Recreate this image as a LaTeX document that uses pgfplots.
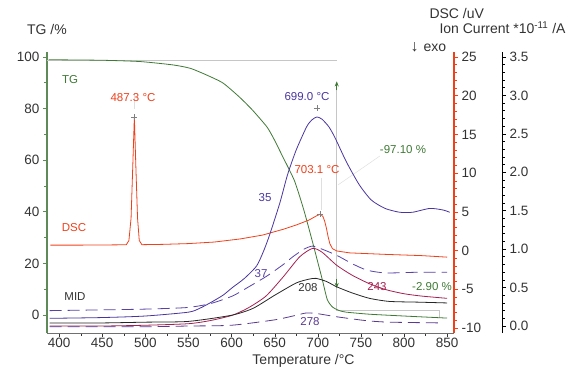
\documentclass[border=0pt]{standalone}
\usepackage{fontspec}
\setmainfont{Liberation Sans}
\usepackage{pgfplots}
\pgfplotsset{compat=1.18}
\usetikzlibrary{arrows.meta}
\definecolor{tgc}{HTML}{3F7A35}
\definecolor{tgax}{HTML}{5E8A57}
\definecolor{dscc}{HTML}{F0401A}
\definecolor{bl}{HTML}{4A35A0}
\definecolor{bld}{HTML}{5842A8}
\definecolor{crim}{HTML}{A52050}
\definecolor{pur}{HTML}{5A3A90}
\definecolor{txt}{HTML}{333333}
\begin{document}
\begin{tikzpicture}
\useasboundingbox (0pt,0pt) rectangle (573pt,376pt);
\pgfplotsset{
  base/.style={scale only axis, height=281pt, at={(47pt,43pt)}, anchor=south west,
    xmin=386, xmax=858, width=407pt,
    tick label style={font=\fontsize{13.5}{15}\selectfont, text=txt},
    /pgf/number format/assume math mode=true,
    tick align=outside, major tick length=4pt, minor tick length=2.5pt,
    every axis plot/.append style={line width=0.8pt}},
}
% ---------- TG axis ----------
\begin{axis}[base,
  ymin=-6.98, ymax=101.9,
  axis x line*=bottom, axis y line*=left,
  x axis line style={-, color=txt!70, line width=0.6pt},
  y axis line style={-, color=tgax, line width=2pt},
  xtick={400,450,...,850}, minor x tick num=1,
  ytick={0,20,...,100}, minor y tick num=1,
  xticklabel style={inner sep=1pt},
  xtick style={color=txt}, ytick style={color=tgax, line width=0.8pt},
]
\draw[gray!45, line width=0.8pt] (axis cs:386,98.8) -- (axis cs:722,98.8);
\draw[gray!45, line width=0.8pt] (axis cs:722,90) -- (axis cs:722,1.9) -- (axis cs:841,1.9) -- (axis cs:841,-1.2);
\draw[tgc, line width=0.8pt, -{Stealth[length=5pt,width=4pt]}] (axis cs:722,87) -- (axis cs:722,90.5);
\draw[tgc, line width=0.8pt, -{Stealth[length=5pt,width=4pt]}] (axis cs:722,14) -- (axis cs:722,10.5);
\draw[gray!25, line width=0.5pt] (axis cs:772,61.6) -- (axis cs:723.5,50.4);
\draw[gray!25, line width=0.5pt] (axis cs:703.8,53.1) -- (axis cs:703.8,40.7);
\draw[gray!25, line width=0.5pt] (axis cs:487.3,86) -- (axis cs:487.3,80);
\addplot[tgc, smooth, tension=0.35] coordinates {
(388,98.9) (450,98.7) (494,98.2) (532,96.9) (552,95.6) (571,93.0) (590,89.9)
(609,84.5) (624,79.5) (641,72.9) (649,68.3) (659,61.6) (673,52.0) (684,40.5)
(694,28.2) (700,20.5) (705.5,13.4) (711,6.0) (717,3.1) (725,1.7) (733,1.1)
(760,0.3) (800,-0.4) (850,-1.2)};
\end{axis}
% ---------- DSC axis ----------
\begin{axis}[base,
  ymin=-10.65, ymax=25.65,
  hide x axis, axis y line*=right,
  y axis line style={-, color=dscc, line width=1.3pt},
  ytick={-10,-5,...,25}, minor y tick num=4,
  ytick style={color=dscc, line width=0.7pt},
]
\addplot[dscc] coordinates {
(390,0.70) (420,0.70) (450,0.72) (470,0.74) (478,0.76) (481,1.3) (483.5,4.2)
(485.5,11) (487.3,17.25) (489,11) (491,4.2) (493,1.3) (496,0.76) (520,0.80)
(550,0.90) (580,1.10) (610,1.50) (636,2.00) (660,2.75) (675,3.30) (690,3.95)
(698,4.45) (703.1,4.72) (706,4.4) (708,3.8) (710,2.9) (712,1.8) (714,0.9)
(717,0.25) (722,-0.05) (737,-0.3) (780,-0.5) (820,-0.65) (850,-0.85)};
\addplot[only marks, mark=+, gray, mark size=3pt, line width=0.6pt] coordinates {(487.3,17.25) (703.1,4.72)};
\end{axis}
% ---------- Ion current axis ----------
\begin{axis}[base, width=455pt, xmax=913.67,
  ymin=-0.091, ymax=3.565,
  hide x axis, axis y line*=right,
  y axis line style={-, color=black, line width=0.8pt},
  ytick={0,0.5,...,3.5}, minor y tick num=4,
  ytick style={color=black, line width=0.7pt},
  yticklabel style={/pgf/number format/.cd, fixed, fixed zerofill, precision=1},
]
\addplot[bl, smooth, tension=0.4] coordinates {
(389,0.10) (450,0.11) (500,0.13) (550,0.18) (563,0.23) (575,0.30) (590,0.40)
(601,0.50) (615,0.62) (629,0.78) (637,0.97) (644,1.18) (656,1.60) (665,1.97)
(675,2.29) (687,2.59) (693,2.68) (699,2.72) (705,2.69) (713,2.59) (720,2.45)
(733,2.14) (748,1.84) (762,1.64) (778,1.53) (795,1.48) (810,1.48) (830,1.53)
(845,1.51) (853,1.48)};
\addplot[bld, smooth, tension=0.4, dash pattern=on 12pt off 6pt] coordinates {
(389,0.20) (450,0.21) (500,0.22) (548,0.24) (575,0.29) (601,0.39) (620,0.51)
(641,0.65) (660,0.80) (671,0.90) (684,1.00) (694,1.04) (705,1.00) (722,0.92)
(740,0.81) (756,0.73) (770,0.70) (783,0.69) (818,0.70) (850,0.70)};
\addplot[crim, smooth, tension=0.4] coordinates {
(389,0.00) (450,0.00) (500,0.01) (550,0.03) (575,0.07) (601,0.14) (620,0.24)
(640,0.39) (660,0.64) (679,0.90) (694,1.01) (705,0.96) (722,0.79) (740,0.66)
(760,0.55) (780,0.47) (800,0.42) (820,0.39) (850,0.36)};
\addplot[black!85, smooth, tension=0.4] coordinates {
(389,0.04) (450,0.04) (500,0.05) (550,0.06) (600,0.14) (625,0.23) (650,0.40)
(675,0.56) (690,0.61) (698,0.62) (710,0.58) (722,0.51) (740,0.43) (760,0.36)
(783,0.32) (818,0.31) (850,0.30)};
\addplot[pur, smooth, tension=0.4, dash pattern=on 12pt off 6pt] coordinates {
(389,-0.01) (450,-0.01) (500,-0.01) (550,0.00) (600,0.01) (650,0.08) (675,0.14)
(687,0.17) (700,0.16) (722,0.12) (756,0.07) (783,0.05) (845,0.04)};
\addplot[only marks, mark=+, gray, mark size=3pt, line width=0.6pt] coordinates {(699,2.83)};
\end{axis}
% ---------- texts ----------
\node[text=txt, font=\fontsize{14}{16}\selectfont] at (47pt,347pt) {TG /\%};
\node[text=txt, font=\fontsize{14}{16}\selectfont, anchor=west] at (426pt,363pt) {DSC /uV};
\node[text=txt, font=\fontsize{14}{16}\selectfont, anchor=west] at (436pt,348pt) {Ion Current *10\textsuperscript{-11} /A};
\node[text=txt, font=\fontsize{14}{16}\selectfont, anchor=west] at (407pt,329pt) {{\fontsize{16}{16}\selectfont ↓}\hspace{5pt}exo};
\node[text=txt, font=\fontsize{14}{16}\selectfont, inner sep=0.5pt] at (303.5pt,15.5pt) {Temperature /°C};
\begin{scope}[every node/.style={font=\fontsize{11.5}{13}\selectfont}]
\node[text=tgc] at (70pt,296pt) {TG};
\node[text=dscc] at (133pt,278pt) {487.3 °C};
\node[text=dscc] at (74pt,148pt) {DSC};
\node[text=txt] at (75pt,79pt) {MID};
\node[text=bl] at (307pt,279pt) {699.0 °C};
\node[text=bl] at (265pt,178pt) {35};
\node[text=dscc] at (317pt,206pt) {703.1 °C};
\node[text=tgc] at (403pt,226pt) {-97.10 \%};
\node[text=bld] at (261pt,102pt) {37};
\node[text=txt] at (308pt,88pt) {208};
\node[text=crim] at (377pt,89pt) {243};
\node[text=tgc] at (432pt,89pt) {-2.90 \%};
\node[text=pur] at (310pt,54pt) {278};
\end{scope}
\end{tikzpicture}
\end{document}
